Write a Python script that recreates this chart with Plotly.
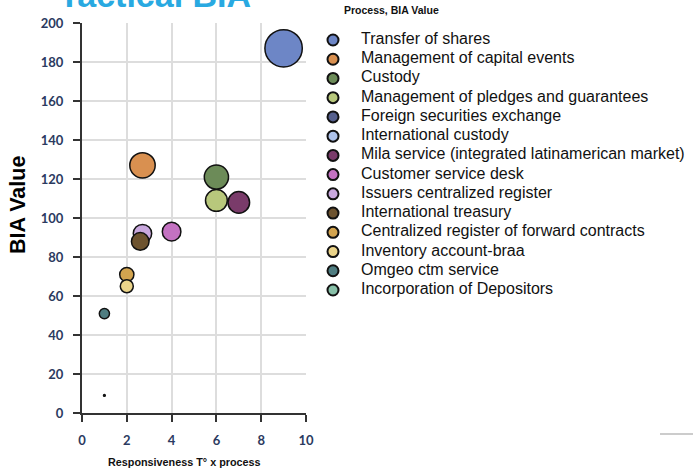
import plotly.graph_objects as go

processes = [
    "Transfer of shares",
    "Management of capital events",
    "Custody",
    "Management of pledges and guarantees",
    "Foreign securities exchange",
    "International custody",
    "Mila service (integrated latinamerican market)",
    "Customer service desk",
    "Issuers centralized register",
    "International treasury",
    "Centralized register of forward contracts",
    "Inventory account-braa",
    "Omgeo ctm service",
    "Incorporation of Depositors",
]
# responsiveness (x) and BIA value (y, also bubble size); two processes have no visible bubble
responsiveness = [9, 2.7, 6, 6, None, None, 7, 4, 2.7, 2.6, 2, 2, 1, 1]
bia_value = [187, 127, 121, 109, None, None, 108, 93, 92, 88, 71, 65, 51, 9]
colors = [
    "#6d86c6", "#d99050", "#6c8b58", "#b8c87c", "#56608e", "#aec2ea", "#7a3b6a",
    "#c472c2", "#c9a8de", "#6d532f", "#d3a44f", "#ebd48a", "#4f7d81", "#88c0a8",
]

x_ticks = [0, 2, 4, 6, 8, 10]
y_ticks = [0, 20, 40, 60, 80, 100, 120, 140, 160, 180, 200]

W, H = 693, 468
_TICK = "#2b3a60"
_OUTLINE = "#111111"

fig = go.Figure()

# bubbles
fig.add_trace(
    go.Scatter(
        x=responsiveness,
        y=bia_value,
        mode="markers",
        text=processes,
        showlegend=False,
        marker=dict(
            size=[v if v is not None else 0 for v in bia_value],
            sizemode="diameter",
            sizeref=5,
            color=colors,
            opacity=1,
            line=dict(color=_OUTLINE, width=1.5),
        ),
        xaxis="x",
        yaxis="y",
    )
)

# hand-built legend: one row per process
rows = list(range(len(processes)))
fig.add_trace(
    go.Scatter(
        x=[0] * len(processes),
        y=rows,
        mode="markers",
        showlegend=False,
        hoverinfo="skip",
        cliponaxis=False,
        marker=dict(size=11, color=colors, line=dict(color=_OUTLINE, width=2)),
        xaxis="x2",
        yaxis="y2",
    )
)
fig.add_trace(
    go.Scatter(
        x=[28] * len(processes),
        y=rows,
        mode="text",
        text=processes,
        textposition="middle right",
        showlegend=False,
        hoverinfo="skip",
        cliponaxis=False,
        textfont=dict(size=16, color="#111111"),
        xaxis="x2",
        yaxis="y2",
    )
)

axis_common = dict(
    showgrid=True,
    gridcolor="#dddddd",
    gridwidth=1.5,
    zeroline=False,
    showline=True,
    linecolor="#333333",
    linewidth=2,
    ticks="outside",
    ticklen=7,
    tickwidth=2,
    tickcolor="#333333",
    automargin=False,
    tickfont=dict(size=13, color=_TICK, family="Lato, sans-serif", weight="bold"),
)

fig.update_layout(
    width=W,
    height=H,
    paper_bgcolor="white",
    plot_bgcolor="white",
    margin=dict(l=0, r=0, t=0, b=0, autoexpand=False),
    font=dict(family="Liberation Sans, Arial, sans-serif", color="#000000"),
    showlegend=False,
    xaxis=dict(
        range=[0, 10], tickvals=x_ticks, domain=[82 / W, 306 / W],
        ticklabelstandoff=7, anchor="y", **axis_common,
    ),
    yaxis=dict(
        range=[0, 200], tickvals=y_ticks, domain=[(H - 413) / H, (H - 23) / H],
        ticklabelstandoff=7, anchor="x", **axis_common,
    ),
    xaxis2=dict(domain=[308 / W, 1], range=[-25, 360], visible=False, anchor="y2",
                automargin=False),
    yaxis2=dict(domain=[0, 1], range=[22.256, -2.080], visible=False, anchor="x2",
                automargin=False),
)

fig.add_annotation(
    text="<b>Tactical BIA</b>", xref="paper", yref="paper", x=57 / W, y=1 + 5 / H,
    xanchor="left", yanchor="middle", showarrow=False,
    font=dict(size=34, color="#29a9e1"),
)
fig.add_annotation(
    text="<b>Process, BIA Value</b>", xref="paper", yref="paper", x=342 / W, y=1 - 10 / H,
    xanchor="left", yanchor="middle", showarrow=False,
    font=dict(size=10.5, color="#111111"),
)
fig.add_annotation(
    text="<b>BIA Value</b>", xref="paper", yref="paper", x=18 / W, y=(H - 205) / H,
    xanchor="center", yanchor="middle", textangle=-90, showarrow=False,
    font=dict(size=21.5, color="#000000"),
)
fig.add_annotation(
    text="<b>Responsiveness T° x process</b>", xref="paper", yref="paper", x=184 / W, y=6 / H,
    xanchor="center", yanchor="middle", showarrow=False,
    font=dict(size=10.8, color="#111111"),
)
fig.add_shape(
    type="line", xref="paper", yref="paper", x0=660 / W, x1=1, y0=34 / H, y1=34 / H,
    line=dict(color="#cccccc", width=2),
)

# drop the default 8px page margin so the figure sits flush in the window
fig.write_html(
    "out.html",
    config={"displayModeBar": False},
    post_script="document.body.style.margin='0px';",
)
